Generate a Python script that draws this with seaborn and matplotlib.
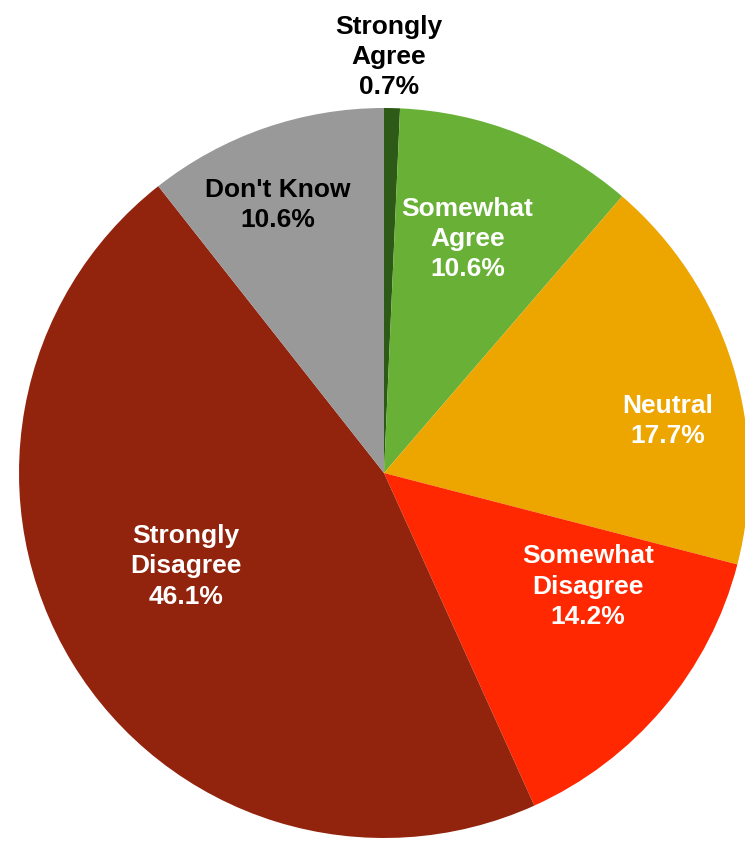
import numpy as np
import matplotlib
matplotlib.use("Agg")
import matplotlib.pyplot as plt
import seaborn as sns

# survey answers, clockwise from the top
categories = ["Strongly\nAgree", "Somewhat\nAgree", "Neutral", "Somewhat\nDisagree",
              "Strongly\nDisagree", "Don't Know"]
shares = [0.7, 10.6, 17.7, 14.2, 46.1, 10.6]
colors = ["#2e5a18", "#69b136", "#eda500", "#ff2800", "#92240e", "#999999"]
text_colors = ["black", "white", "white", "white", "white", "black"]

# label placement: fraction of radius, angle tweak (deg)
label_r = [1.14, 0.68, 0.79, 0.64, 0.60, 0.79]
label_dang = [0.6, 2, -7, 11, -6, 2.5]

sns.set_theme(style="white")
plt.rcParams['font.family'] = ['Liberation Sans', 'DejaVu Sans']

fig = plt.figure(figsize=(7.45, 8.44), dpi=100)
ax = fig.add_axes([0, 0, 1, 1])

cx, cy, R = 384, 844 - 473, 365
wedges, _ = ax.pie(shares, colors=colors, startangle=90, counterclock=False,
                   center=(cx, cy), radius=R, normalize=True,
                   wedgeprops=dict(linewidth=0))

for w, lab, val, tc, rf, da in zip(wedges, categories, shares, text_colors, label_r, label_dang):
    mid = np.deg2rad((w.theta1 + w.theta2) / 2 + da)
    x = cx + rf * R * np.cos(mid)
    y = cy + rf * R * np.sin(mid)
    ax.text(x, y, f"{lab}\n{val:.1f}%", ha="center", va="center", color=tc,
            fontsize=19, fontweight="bold", linespacing=1.32)

ax.set_xlim(0, 745)
ax.set_ylim(0, 844)
ax.set_aspect("equal")
ax.axis("off")

fig.savefig("out.png", dpi=100)
